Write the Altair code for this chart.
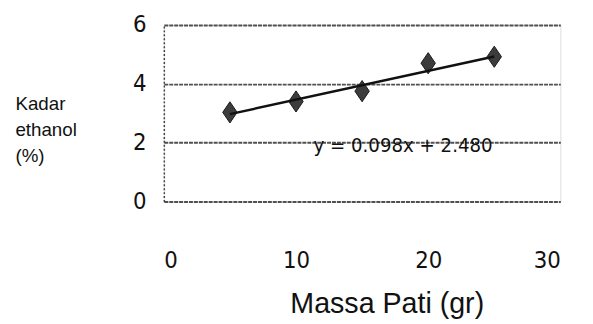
import altair as alt
import pandas as pd

massa = [5, 10, 15, 20, 25]
kadar = [3.03, 3.4, 3.75, 4.7, 4.92]
trend_x = [5, 25]
trend_y = [2.97, 4.93]
eq_text = ["y = 0.098x + 2.480"]
eq_x = [18.1]
eq_y = [1.9]

pts = pd.DataFrame({"x": massa, "y": kadar})
trend = pd.DataFrame({"x": trend_x, "y": trend_y})
eq = pd.DataFrame({"x": eq_x, "y": eq_y, "t": eq_text})

narrow = "DejaVu Sans Condensed, sans-serif"
sans = "Liberation Sans, Arial, sans-serif"

xs = alt.Scale(domain=[0, 30], nice=False, zero=False)
ys = alt.Scale(domain=[0, 6], nice=False, zero=False)

xax = alt.Axis(values=[0, 10, 20, 30], grid=False, domain=False, ticks=False,
               labelFont=narrow, labelFontSize=24, labelColor="#111",
               labelPadding=48, title="Massa Pati (gr)", titleFont=sans,
               titleFontSize=29, titleFontWeight="normal", titleColor="#111",
               titleX=226, titleY=113, titleAnchor="middle", titleBaseline="alphabetic")
yax = alt.Axis(values=[0, 2, 4, 6], grid=True, gridColor="#505050", gridWidth=2,
               gridDash=[4, 1], domain=True, domainColor="#444", domainDash=[2, 2],
               domainWidth=1.5, ticks=False, labelFont=narrow, labelFontSize=24,
               labelColor="#111", labelPadding=18,
               title=["Kadar", "ethanol", "(%)"], titleAngle=0, titleAlign="left",
               titleFont=sans, titleFontSize=19,
               titleFontWeight="normal", titleColor="#111", titleX=-151, titleY=80,
               titleBaseline="middle", titleLineHeight=26)

base_points = alt.Chart(pts).mark_point(
    shape="M0,-1.1L0.75,0L0,1.1L-0.75,0Z", filled=True, size=380,
    color="#3c3c3c", stroke="#1a1a1a", strokeWidth=1, opacity=1
).encode(x=alt.X("x:Q", scale=xs, axis=xax), y=alt.Y("y:Q", scale=ys, axis=yax))

line = alt.Chart(trend).mark_line(color="#111", strokeWidth=2.5).encode(
    x=alt.X("x:Q", scale=xs), y=alt.Y("y:Q", scale=ys))

txt = alt.Chart(eq).mark_text(font=narrow, fontSize=20.5, color="#111",
                              align="center", baseline="middle").encode(
    x=alt.X("x:Q", scale=xs), y=alt.Y("y:Q", scale=ys), text="t:N")

chart = alt.layer(base_points, line, txt).properties(
    width=402, height=179,
    autosize=alt.AutoSizeParams(type="none"),
    padding={"left": 158, "top": 15, "right": 25, "bottom": 122},
).configure_view(stroke=None).configure(background="white")

chart.save("out.html", embed_options={"renderer": "svg", "actions": False})
